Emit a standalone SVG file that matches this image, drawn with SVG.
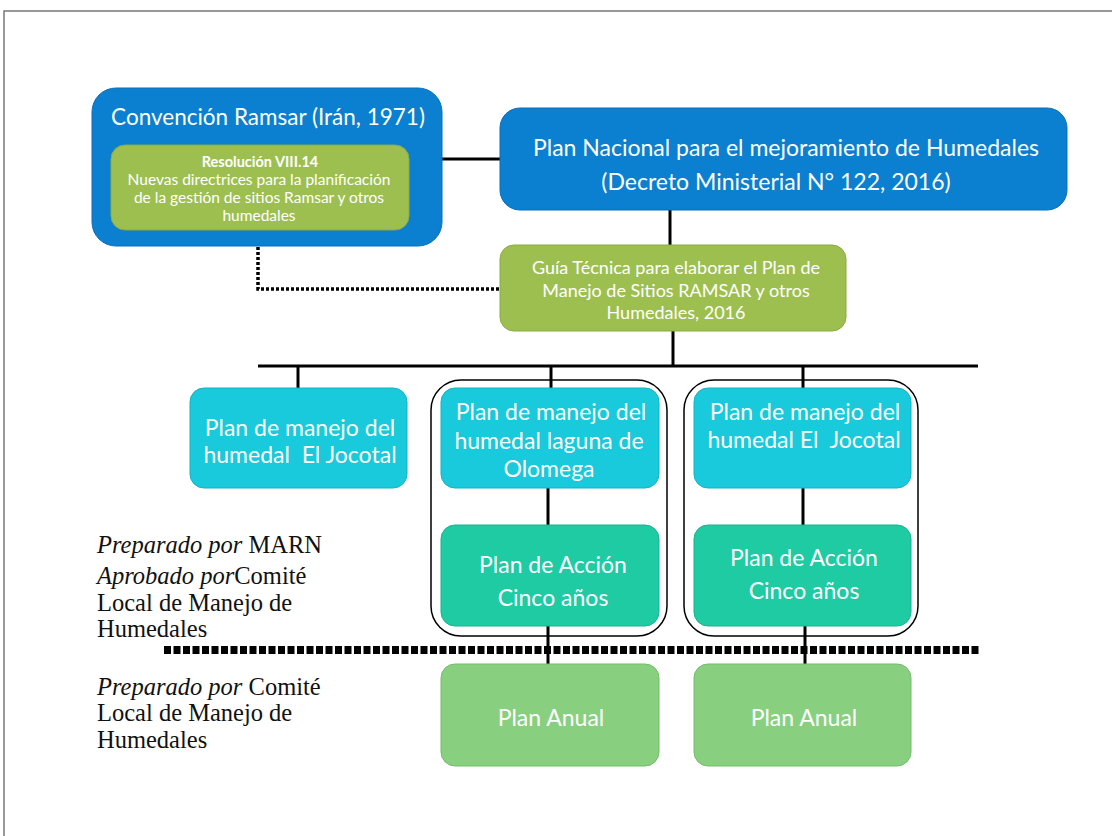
<svg xmlns="http://www.w3.org/2000/svg" width="1112" height="836" viewBox="0 0 1112 836">
<style>
.t{font-family:Lato,"Open Sans",sans-serif;fill:#fff;text-anchor:middle}
.b{font-size:23px}
.s{font-family:"Liberation Serif",serif;fill:#111;font-size:24.5px}
.blue{fill:#0b7fd0;stroke:#0a6fb8;stroke-width:1}
.green{fill:#9dbf4f;stroke:#8aaa40;stroke-width:1}
.cyan{fill:#18cadb;stroke:#12b3c3;stroke-width:1}
.teal{fill:#1ecba3;stroke:#17b48f;stroke-width:1}
.lg{fill:#88d07f;stroke:#74bb6b;stroke-width:1}
.ln{stroke:#000;stroke-width:3;fill:none}
</style>
<rect width="1112" height="836" fill="#fff"/>
<path d="M4 836V11H1112" fill="none" stroke="#777" stroke-width="1.5"/>
<g id="connectors">
<line class="ln" x1="442" y1="159" x2="500" y2="159"/>
<line class="ln" x1="670" y1="210" x2="670" y2="245"/>
<path d="M258 232V289H500" fill="none" stroke="#000" stroke-width="3.5" stroke-dasharray="3 2"/>
<line class="ln" x1="673" y1="331" x2="673" y2="366"/>
<line class="ln" x1="258" y1="366" x2="978" y2="366"/>
<line class="ln" x1="298" y1="366" x2="298" y2="388"/>
<line class="ln" x1="551" y1="366" x2="551" y2="388"/>
<line class="ln" x1="803" y1="366" x2="803" y2="388"/>
<line class="ln" x1="548" y1="488" x2="548" y2="525"/>
<line class="ln" x1="803" y1="488" x2="803" y2="525"/>
<line class="ln" x1="548" y1="626" x2="548" y2="664"/>
<line class="ln" x1="805" y1="626" x2="805" y2="664"/>
<line x1="164" y1="650" x2="980" y2="650" stroke="#000" stroke-width="8" stroke-dasharray="7 2.5"/>
</g>
<g id="frame1"><rect x="431" y="380" width="236" height="256" rx="30" fill="none" stroke="#000" stroke-width="1.5"/></g>
<g id="frame2"><rect x="684" y="380" width="234" height="256" rx="30" fill="none" stroke="#000" stroke-width="1.5"/></g>
<g id="ramsar">
<rect class="blue" x="92" y="88" width="350" height="158" rx="24"/>
<text class="t" x="268" y="125" font-size="22.5">Convención Ramsar (Irán, 1971)</text>
</g>
<g id="resolucion">
<rect class="green" x="111" y="145" width="298" height="85" rx="14"/>
<text class="t" x="260" y="167" font-size="14.5" font-weight="bold">Resolución VIII.14</text>
<text class="t" x="259" y="185" font-size="15.5">Nuevas directrices para la planificación</text>
<text class="t" x="259" y="203" font-size="15.5">de la gestión de sitios Ramsar y otros</text>
<text class="t" x="259" y="221" font-size="15.5">humedales</text>
</g>
<g id="plannacional">
<rect class="blue" x="500" y="108" width="567" height="102" rx="20"/>
<text class="t" x="786" y="156" font-size="23">Plan Nacional para el mejoramiento de Humedales</text>
<text class="t" x="776" y="190" font-size="23">(Decreto Ministerial N° 122, 2016)</text>
</g>
<g id="guia">
<rect class="green" x="500" y="245" width="346" height="86" rx="14"/>
<text class="t" x="676" y="274" font-size="18">Guía Técnica para elaborar el Plan de</text>
<text class="t" x="676" y="297" font-size="18">Manejo de Sitios RAMSAR y otros</text>
<text class="t" x="676" y="319" font-size="18">Humedales, 2016</text>
</g>
<g id="jocotal1">
<rect class="cyan" x="190" y="388" width="217" height="100" rx="14"/>
<text class="t b" x="300" y="436">Plan de manejo del</text>
<text class="t b" x="300" y="463" xml:space="preserve">humedal  El Jocotal</text>
</g>
<g id="olomega">
<rect class="cyan" x="441" y="388" width="218" height="100" rx="14"/>
<text class="t b" x="551" y="420">Plan de manejo del</text>
<text class="t b" x="549" y="449">humedal laguna de</text>
<text class="t b" x="549" y="477">Olomega</text>
</g>
<g id="jocotal2">
<rect class="cyan" x="694" y="388" width="217" height="100" rx="14"/>
<text class="t b" x="805" y="420">Plan de manejo del</text>
<text class="t b" x="804" y="448" xml:space="preserve">humedal El  Jocotal</text>
</g>
<g id="accion1">
<rect class="teal" x="441" y="525" width="218" height="101" rx="14"/>
<text class="t b" x="553" y="573">Plan de Acción</text>
<text class="t b" x="553" y="606">Cinco años</text>
</g>
<g id="accion2">
<rect class="teal" x="694" y="525" width="217" height="101" rx="14"/>
<text class="t b" x="804" y="566">Plan de Acción</text>
<text class="t b" x="804" y="599">Cinco años</text>
</g>
<g id="anual1">
<rect class="lg" x="441" y="664" width="218" height="102" rx="14"/>
<text class="t b" x="551" y="726">Plan Anual</text>
</g>
<g id="anual2">
<rect class="lg" x="694" y="664" width="217" height="102" rx="14"/>
<text class="t b" x="804" y="726">Plan Anual</text>
</g>
<g id="labels">
<text class="s" x="97" y="553"><tspan font-style="italic">Preparado por</tspan> MARN</text>
<text class="s" x="97" y="584"><tspan font-style="italic">Aprobado por</tspan>Comité</text>
<text class="s" x="97" y="611">Local de Manejo de</text>
<text class="s" x="97" y="637">Humedales</text>
<text class="s" x="97" y="695"><tspan font-style="italic">Preparado por</tspan> Comité</text>
<text class="s" x="97" y="721">Local de Manejo de</text>
<text class="s" x="97" y="748">Humedales</text>
</g>
</svg>
